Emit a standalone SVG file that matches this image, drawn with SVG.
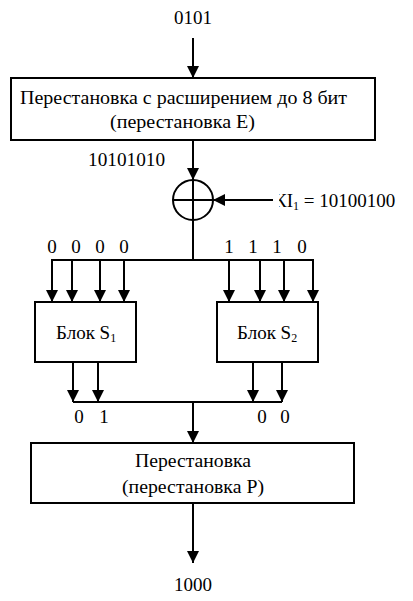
<svg xmlns="http://www.w3.org/2000/svg" width="413" height="601" viewBox="0 0 413 601">
<defs>
<marker id="ah" markerUnits="userSpaceOnUse" markerWidth="12" markerHeight="16" viewBox="0 0 12 16" refX="12" refY="6" orient="auto">
<path d="M0,0 L12,6 L0,12 Z" fill="#000"/>
</marker>
<clipPath id="kc"><rect x="279" y="180" width="134" height="40"/></clipPath>
</defs>
<style>
text{font-family:"Liberation Serif","Times New Roman",serif;font-size:18px;fill:#000}
.c{text-anchor:middle}
.d{font-size:19px}
.box{fill:#fff;stroke:#000;stroke-width:2}
.ln{fill:none;stroke:#000;stroke-width:2}
.ar{fill:none;stroke:#000;stroke-width:2;marker-end:url(#ah)}
</style>
<rect width="413" height="601" fill="#fff"/>
<g id="connectors">
<line class="ar" x1="193" y1="38" x2="193" y2="78"/>
<line class="ar" x1="193" y1="140" x2="193" y2="180"/>
<line class="ar" x1="273" y1="200" x2="213" y2="200"/>
<line class="ln" x1="193" y1="220" x2="193" y2="260"/>
<line class="ln" x1="52" y1="260" x2="314" y2="260"/>
<line class="ar" x1="52" y1="259" x2="52" y2="302"/>
<line class="ar" x1="72" y1="260" x2="72" y2="302"/>
<line class="ar" x1="100" y1="260" x2="100" y2="302"/>
<line class="ar" x1="124" y1="260" x2="124" y2="302"/>
<line class="ar" x1="229" y1="260" x2="229" y2="302"/>
<line class="ar" x1="260" y1="260" x2="260" y2="302"/>
<line class="ar" x1="284" y1="260" x2="284" y2="302"/>
<line class="ar" x1="313" y1="259" x2="313" y2="302"/>
<line class="ar" x1="73" y1="362" x2="73" y2="402"/>
<line class="ar" x1="98" y1="362" x2="98" y2="402"/>
<line class="ar" x1="253" y1="362" x2="253" y2="402"/>
<line class="ar" x1="282" y1="362" x2="282" y2="402"/>
<line class="ln" x1="73" y1="402" x2="282" y2="402"/>
<line class="ar" x1="193" y1="402" x2="193" y2="443"/>
<line class="ar" x1="193" y1="503" x2="193" y2="563"/>
</g>
<g id="input"><text class="c d" x="193" y="24">0101</text></g>
<g id="expansion">
<rect class="box" x="11" y="78" width="364" height="62"/>
<text x="20" y="104" textLength="327" lengthAdjust="spacingAndGlyphs">Перестановка с расширением до 8 бит</text>
<text x="110" y="128" textLength="145" lengthAdjust="spacingAndGlyphs">(перестановка Е)</text>
</g>
<g id="expanded"><text class="d" x="88" y="166" textLength="77" lengthAdjust="spacingAndGlyphs">10101010</text></g>
<g id="xor">
<circle cx="193" cy="200" r="20" fill="#fff" stroke="#000" stroke-width="2"/>
<line class="ln" x1="173" y1="200" x2="213" y2="200"/>
<line class="ln" x1="193" y1="180" x2="193" y2="220"/>
</g>
<g id="key"><text class="d" x="274" y="207" clip-path="url(#kc)">КI<tspan font-size="12" dy="3">1</tspan><tspan dy="-3"> = 10100100</tspan></text></g>
<g id="bits-in">
<text class="c d" x="52" y="253">0</text>
<text class="c d" x="76" y="253">0</text>
<text class="c d" x="100" y="253">0</text>
<text class="c d" x="124" y="253">0</text>
<text class="c d" x="229" y="253">1</text>
<text class="c d" x="253" y="253">1</text>
<text class="c d" x="277" y="253">1</text>
<text class="c d" x="302" y="253">0</text>
</g>
<g id="s1">
<rect class="box" x="35" y="302" width="101" height="60"/>
<text class="d" x="56" y="339">Блок S<tspan font-size="12" dy="3">1</tspan></text>
</g>
<g id="s2">
<rect class="box" x="217" y="302" width="101" height="60"/>
<text class="d" x="237" y="339">Блок S<tspan font-size="12" dy="3">2</tspan></text>
</g>
<g id="bits-out">
<text class="c d" x="79" y="423">0</text>
<text class="c d" x="104" y="423">1</text>
<text class="c d" x="262" y="423">0</text>
<text class="c d" x="285" y="423">0</text>
</g>
<g id="pbox">
<rect class="box" x="31" y="443" width="323" height="60"/>
<text x="135" y="467" textLength="116" lengthAdjust="spacingAndGlyphs">Перестановка</text>
<text x="122" y="493" textLength="142" lengthAdjust="spacingAndGlyphs">(перестановка Р)</text>
</g>
<g id="output"><text class="c d" x="193" y="591">1000</text></g>
</svg>
